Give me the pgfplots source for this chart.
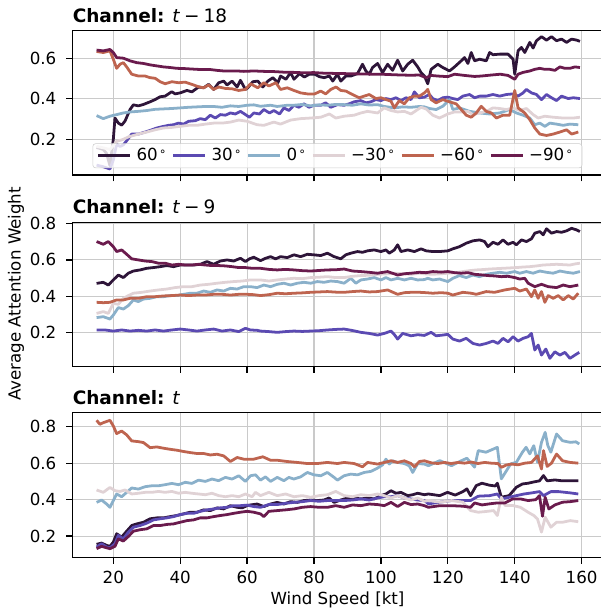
\documentclass[border=0pt]{standalone}
\usepackage{fontspec}
\setmainfont{DejaVu Sans}
\usepackage{pgfplots}
\pgfplotsset{compat=1.18}
\definecolor{cA}{HTML}{2E1539}
\definecolor{cB}{HTML}{5B4AB2}
\definecolor{cC}{HTML}{8AB0CA}
\definecolor{cD}{HTML}{E0D2D5}
\definecolor{cE}{HTML}{BE644F}
\definecolor{cF}{HTML}{6A1B4D}
\definecolor{gridgray}{HTML}{CACACA}
\newcommand{\dg}{\hspace{1pt}\raisebox{0.62ex}{\fontsize{8.4}{8.4}\selectfont ∘}}
\pgfplotsset{
 panel/.style={
  scale only axis, width=381.5pt, height=104pt, anchor=south west,
  xmin=7.8, xmax=166.2,
  xtick={20,40,60,80,100,120,140,160},
  grid=major, grid style={color=gridgray, line width=0.8pt},
  axis line style={line width=0.9pt},
  tick style={line width=0.9pt, black},
  tick align=outside, major tick length=4.5pt,
  xtick pos=bottom, ytick pos=left,
  tick label style={font=\fontsize{12}{14}\selectfont},
  xticklabel style={yshift=-2.3pt},
  yticklabel style={xshift=-3.6pt},
  /pgf/number format/assume math mode=true,
  yticklabel style={/pgf/number format/fixed, /pgf/number format/fixed zerofill, /pgf/number format/precision=1},
  title style={at={(0,1)}, anchor=base west, font=\fontsize{13.3}{15}\selectfont, inner sep=0pt},
  every axis plot/.append style={line width=2pt, line join=round},
 }
}
\begin{document}
\begin{tikzpicture}
% ---------------- Panel 1 ----------------
\begin{axis}[panel, at={(52.2pt,314.6pt)}, ymin=0.024, ymax=0.736, ytick={0.2,0.4,0.6}, xticklabels={},
 title={\textbf{Channel:} \textit{t}\hspace{0.22em}−\hspace{0.22em}18},
 legend columns=6,
 legend style={at={(0.5,0.048)}, anchor=south, draw=black!20, fill=white, fill opacity=0.8, text opacity=1,
   rounded corners=2pt, font=\fontsize{12}{14}\selectfont, inner xsep=3pt, inner ysep=1.5pt,
   nodes={inner xsep=3.5pt},
   /tikz/every even column/.append style={column sep=0.5pt}},
 legend image code/.code={\draw[#1, line width=2pt] (0pt,0pt) -- (23pt,0pt);},
]
\addplot[cA] coordinates {(15,0.16) (16,0.155) (17,0.15) (18,0.13) (19,0.07) (20,0.20) (20.5,0.305) (21.5,0.28) (22.5,0.27) (23.5,0.29) (25,0.347) (26,0.37) (27.5,0.365) (29,0.372) (31,0.385) (32.5,0.396) (34,0.41) (35.5,0.413) (37.5,0.435) (38.5,0.424) (40,0.429) (42,0.441) (43.5,0.434) (45.5,0.458) (47,0.454) (48.5,0.471) (50,0.446) (51.5,0.479) (53,0.487) (54,0.468) (55.5,0.487) (57,0.458) (58,0.491) (59.5,0.446) (60.2,0.454) (61.7,0.484) (63.2,0.487) (64.7,0.458) (66.2,0.487) (67.7,0.504) (69.2,0.479) (70,0.512) (71.6,0.496) (73,0.529) (74,0.496) (75.7,0.524) (77.1,0.507) (78.6,0.521) (80.2,0.521) (81.6,0.509) (83,0.504) (84.6,0.512) (85.6,0.487) (87,0.521) (88,0.487) (89.5,0.512) (91,0.512) (93,0.524) (94.5,0.570) (95.5,0.537) (96.5,0.521) (97.5,0.554) (99,0.574) (100.5,0.529) (102,0.570) (103.5,0.540) (105,0.590) (106.5,0.537) (108,0.570) (109.5,0.590) (111,0.557) (112,0.529) (113,0.512) (114,0.474) (115,0.545) (117,0.570) (118.5,0.554) (120.5,0.537) (122,0.557) (124,0.587) (125,0.603) (126,0.574) (127,0.628) (128,0.587) (129.5,0.595) (131.5,0.587) (132.5,0.628) (133.5,0.617) (135.5,0.620) (138,0.620) (139.5,0.595) (140,0.521) (141,0.636) (142,0.653) (143,0.628) (144.5,0.678) (145.5,0.650) (146.5,0.686) (148,0.706) (149.5,0.689) (151,0.706) (152.5,0.686) (154,0.694) (155.5,0.678) (157,0.694) (158.5,0.689) (159.5,0.683)};
\addlegendentry{60\dg}
\addplot[cB] coordinates {(15,0.073) (17,0.065) (19,0.054) (20,0.098) (21,0.176) (22,0.165) (23,0.173) (24,0.193) (25.5,0.226) (27.5,0.226) (29.5,0.236) (31.5,0.247) (33,0.256) (34.5,0.262) (36.5,0.269) (38,0.272) (39.5,0.280) (41,0.275) (42.5,0.289) (44.5,0.292) (46,0.302) (47.5,0.297) (49,0.319) (50.5,0.305) (52,0.322) (53.5,0.319) (55,0.330) (56.5,0.325) (58,0.338) (59.5,0.322) (60.7,0.309) (62,0.330) (63.7,0.325) (65,0.347) (66.7,0.330) (68,0.342) (69.7,0.325) (71,0.355) (72.5,0.342) (74,0.368) (75.5,0.358) (77,0.375) (78.5,0.358) (80,0.368) (82,0.368) (83.5,0.380) (85,0.358) (87,0.371) (89,0.368) (90.5,0.375) (92,0.385) (94,0.391) (95.5,0.380) (97,0.385) (98.5,0.396) (100,0.391) (101.5,0.401) (103,0.396) (104.5,0.405) (106,0.391) (107.5,0.405) (109,0.396) (110,0.434) (111.5,0.405) (113,0.408) (114.5,0.421) (115.5,0.401) (117,0.391) (118.5,0.405) (120,0.408) (121.5,0.401) (123,0.396) (124.5,0.413) (126.5,0.421) (128,0.405) (129.5,0.413) (131.5,0.413) (133.5,0.421) (135.5,0.413) (137.5,0.421) (139.5,0.424) (141,0.413) (142.5,0.429) (143.5,0.446) (145,0.429) (146.5,0.421) (148,0.396) (149.5,0.421) (151,0.405) (152.5,0.391) (154,0.413) (156,0.401) (157.5,0.405) (159.5,0.401)};
\addlegendentry{30\dg}
\addplot[cC] coordinates {(15,0.317) (17,0.302) (19,0.314) (21,0.322) (23,0.330) (25,0.335) (27.5,0.338) (30,0.342) (32.5,0.348) (35,0.350) (37.5,0.352) (40,0.355) (42.5,0.358) (45,0.360) (47.5,0.362) (50,0.362) (52.5,0.358) (55,0.365) (57.5,0.362) (60,0.368) (62,0.370) (64,0.363) (67,0.368) (69,0.362) (72,0.368) (74,0.368) (76.5,0.372) (79,0.365) (81.5,0.370) (84,0.368) (86.5,0.372) (89,0.371) (91.5,0.368) (94,0.375) (96.5,0.369) (99,0.371) (101,0.362) (104,0.355) (106.5,0.360) (109,0.358) (111.5,0.362) (113,0.360) (114.5,0.352) (116.5,0.347) (118.5,0.363) (120.5,0.396) (121.5,0.347) (123.5,0.355) (126.5,0.338) (129.5,0.330) (132.5,0.325) (135.5,0.330) (138.5,0.347) (140.5,0.330) (142.5,0.319) (144.5,0.305) (146,0.272) (147.5,0.280) (149,0.264) (150.5,0.280) (152.5,0.275) (154.5,0.269) (156.5,0.275) (159,0.272)};
\addlegendentry{0\dg}
\addplot[cD] coordinates {(15,0.165) (17,0.158) (19,0.150) (21,0.190) (23,0.200) (24.5,0.212) (26,0.219) (27.5,0.226) (30,0.236) (32.5,0.247) (35,0.256) (37.5,0.259) (40,0.264) (42.5,0.269) (45,0.269) (47.5,0.275) (50,0.280) (52.5,0.280) (55,0.285) (57.5,0.295) (60,0.289) (63,0.272) (65,0.269) (68,0.285) (70,0.275) (73,0.295) (76,0.302) (79,0.305) (82,0.309) (84.6,0.325) (86.5,0.305) (89,0.314) (92,0.319) (94,0.330) (96,0.338) (99,0.330) (101,0.355) (103,0.342) (105,0.335) (107,0.338) (109,0.325) (111,0.347) (112,0.358) (113.5,0.350) (115.5,0.319) (117.5,0.305) (120,0.325) (122,0.335) (124,0.335) (126,0.338) (127.5,0.322) (129.5,0.330) (131.5,0.338) (133.5,0.355) (135.5,0.352) (137.5,0.347) (139.5,0.355) (141.5,0.342) (143.5,0.352) (145.5,0.322) (147,0.305) (149,0.314) (151.5,0.309) (154.5,0.305) (157.5,0.305) (159.5,0.309)};
\addlegendentry{−30\dg}
\addplot[cE] coordinates {(15,0.633) (17,0.628) (19,0.636) (20,0.595) (21,0.550) (22,0.570) (23,0.578) (24,0.557) (25.5,0.521) (27.5,0.512) (29.5,0.512) (31,0.504) (32.5,0.501) (34,0.484) (35.5,0.474) (37.5,0.484) (39.5,0.479) (41.5,0.482) (43.5,0.471) (45.5,0.459) (47,0.454) (48.5,0.468) (50,0.446) (51.5,0.458) (53.5,0.451) (55.5,0.449) (57.5,0.441) (59.5,0.446) (61,0.474) (63.2,0.454) (65,0.479) (66.5,0.463) (68.6,0.479) (70,0.446) (72,0.454) (74,0.441) (76,0.429) (78,0.424) (80.2,0.424) (82,0.438) (83.5,0.424) (85,0.446) (86.6,0.458) (88,0.441) (89.5,0.438) (91.5,0.421) (93.5,0.405) (95,0.413) (96.5,0.421) (98.5,0.401) (100,0.405) (101.5,0.396) (103,0.388) (104,0.355) (105.5,0.391) (107,0.375) (108.5,0.405) (110,0.413) (111.5,0.413) (113,0.429) (114,0.446) (115,0.396) (116.5,0.380) (118.5,0.396) (120.5,0.385) (122.5,0.375) (124,0.347) (125.5,0.319) (127,0.309) (128.5,0.330) (130,0.363) (131.5,0.338) (133,0.330) (134.5,0.305) (136.5,0.319) (138.5,0.319) (140,0.441) (141,0.355) (143,0.330) (144.5,0.297) (146,0.256) (147.5,0.226) (149.5,0.219) (151.5,0.226) (153.5,0.236) (155.5,0.247) (157,0.226) (159,0.236)};
\addlegendentry{−60\dg}
\addplot[cF] coordinates {(15,0.640) (17,0.636) (19,0.643) (20,0.628) (21,0.603) (23,0.600) (25,0.587) (27,0.578) (29,0.574) (31,0.567) (33,0.562) (35,0.557) (37,0.554) (39,0.550) (41,0.549) (43,0.547) (45,0.545) (47,0.544) (49,0.544) (51,0.540) (53,0.537) (55,0.537) (57,0.537) (59,0.535) (62,0.537) (65,0.535) (68,0.534) (71,0.531) (74,0.530) (77,0.528) (80,0.529) (83,0.526) (86,0.525) (89,0.524) (92,0.523) (95,0.522) (98,0.521) (100,0.521) (103,0.519) (106,0.517) (109,0.516) (111.5,0.517) (113.5,0.504) (115,0.515) (117,0.512) (120,0.509) (122,0.521) (125,0.515) (128,0.510) (130,0.512) (133,0.517) (135.7,0.521) (138,0.515) (140,0.496) (141,0.521) (142.5,0.530) (144.5,0.537) (146,0.545) (147.5,0.550) (149,0.545) (150.5,0.545) (152,0.540) (153.5,0.557) (155,0.550) (156.5,0.550) (158,0.557) (159.5,0.554)};
\addlegendentry{−90\dg}
\end{axis}
% ---------------- Panel 2 ----------------
\begin{axis}[panel, at={(52.2pt,176.6pt)}, ymin=0.013, ymax=0.807, ytick={0.2,0.4,0.6,0.8}, xticklabels={},
 title={\textbf{Channel:} \textit{t}\hspace{0.22em}−\hspace{0.22em}9}]
\addplot[cA] coordinates {(15,0.471) (17,0.477) (18.5,0.462) (20,0.490) (21.5,0.517) (23,0.503) (24.5,0.527) (26,0.539) (28,0.545) (30,0.554) (32,0.558) (34,0.563) (36,0.569) (38,0.563) (40,0.572) (42,0.572) (44,0.572) (46,0.576) (48,0.591) (50,0.576) (52,0.594) (54,0.600) (56,0.594) (58,0.609) (59.5,0.591) (60.7,0.606) (62,0.615) (64,0.596) (65.5,0.609) (67,0.618) (68.5,0.606) (70,0.618) (72,0.613) (74,0.628) (76,0.618) (78,0.631) (80,0.628) (82,0.624) (84,0.637) (86,0.618) (88,0.606) (89.5,0.628) (91,0.637) (93,0.646) (94.5,0.642) (96,0.650) (98,0.655) (100,0.646) (101.5,0.655) (102.5,0.637) (104,0.655) (105,0.683) (106,0.646) (108,0.655) (110,0.646) (112,0.661) (113.5,0.650) (115.5,0.646) (117.5,0.646) (120,0.650) (121.5,0.661) (123.5,0.673) (125.5,0.692) (127.5,0.705) (129.5,0.710) (131,0.701) (132,0.673) (133.5,0.697) (135,0.686) (136.5,0.710) (138,0.686) (139.5,0.697) (140.5,0.683) (142,0.710) (143.5,0.701) (145,0.716) (146,0.747) (147.5,0.756) (148.5,0.738) (149.5,0.771) (151,0.747) (152.5,0.756) (154,0.752) (155.5,0.760) (157,0.774) (158.5,0.765) (159.5,0.756)};
\addplot[cB] coordinates {(15,0.215) (17.5,0.215) (20,0.209) (22.5,0.215) (25,0.209) (27.5,0.213) (30,0.209) (32.5,0.215) (35,0.209) (37.5,0.215) (40,0.220) (42.5,0.215) (45,0.209) (47.5,0.215) (50,0.220) (52.5,0.209) (55,0.215) (57.5,0.206) (59.5,0.224) (61,0.215) (63,0.213) (64,0.209) (66.5,0.206) (69,0.202) (71.5,0.206) (74,0.209) (76.5,0.207) (79,0.209) (81.5,0.211) (84,0.215) (86.5,0.218) (89,0.220) (91.5,0.212) (94,0.202) (96.5,0.196) (99,0.187) (101,0.196) (103,0.209) (104,0.190) (105,0.165) (106.5,0.196) (109,0.183) (111,0.189) (113,0.185) (115,0.202) (116.5,0.183) (118.5,0.187) (120,0.191) (121.5,0.165) (123.5,0.154) (125.5,0.169) (127.5,0.141) (129.5,0.132) (131.5,0.141) (133.5,0.154) (135,0.141) (136.5,0.169) (138,0.150) (139.5,0.178) (141,0.154) (142.5,0.169) (144,0.178) (145,0.196) (146,0.105) (147,0.132) (148,0.077) (149.3,0.110) (150.5,0.059) (152,0.095) (153.5,0.077) (155,0.092) (156.5,0.059) (158,0.077) (159.3,0.092)};
\addplot[cC] coordinates {(15,0.283) (17,0.288) (19,0.275) (20,0.297) (21.5,0.338) (23,0.330) (24.5,0.349) (26,0.380) (27.5,0.371) (29,0.385) (31,0.389) (33,0.398) (35,0.398) (37,0.404) (39,0.404) (41,0.411) (43,0.417) (45,0.417) (47,0.429) (49,0.422) (51,0.435) (53,0.429) (55,0.444) (57,0.440) (59,0.453) (61,0.453) (63,0.448) (65,0.462) (67,0.453) (69,0.466) (71,0.472) (73,0.462) (75,0.472) (77,0.477) (79,0.472) (81,0.481) (83,0.477) (85,0.484) (87,0.481) (89,0.472) (91,0.499) (92.5,0.472) (94,0.490) (96,0.495) (98,0.503) (100,0.490) (101.5,0.503) (103,0.490) (105,0.499) (107,0.490) (109,0.499) (111,0.490) (113,0.492) (114,0.499) (115.5,0.490) (117.5,0.495) (120,0.481) (121.5,0.499) (123.5,0.514) (125.5,0.503) (127.5,0.517) (129.5,0.508) (131.5,0.521) (133.5,0.527) (135.5,0.532) (137.5,0.527) (140,0.536) (141.5,0.527) (143.5,0.536) (145.5,0.527) (147.5,0.539) (149.5,0.532) (151.5,0.527) (153.5,0.539) (155.5,0.532) (157.5,0.527) (159.5,0.536)};
\addplot[cD] coordinates {(15,0.306) (17,0.316) (18.5,0.306) (20,0.361) (21.5,0.356) (23,0.389) (24.5,0.404) (26,0.417) (28.5,0.422) (31,0.429) (33.5,0.435) (36,0.440) (38.5,0.448) (41,0.453) (43.5,0.453) (46,0.462) (48.5,0.466) (51,0.472) (53.5,0.477) (56,0.481) (58.5,0.484) (61,0.490) (64,0.490) (66.5,0.484) (69,0.490) (71.5,0.495) (74,0.499) (76.5,0.497) (79,0.503) (81.5,0.505) (84,0.508) (86.5,0.503) (89,0.503) (91.5,0.510) (94,0.514) (96.5,0.516) (99,0.521) (101.5,0.523) (104,0.527) (106.5,0.524) (109,0.521) (111.5,0.527) (113.5,0.523) (115.5,0.521) (118,0.524) (120,0.527) (122.5,0.530) (124.5,0.536) (126.5,0.541) (128.5,0.545) (130.5,0.547) (132.5,0.550) (134.5,0.552) (136.5,0.554) (138.5,0.556) (140.5,0.558) (142.5,0.561) (144.5,0.563) (146.5,0.567) (148.5,0.572) (150.5,0.574) (152.5,0.576) (154.5,0.574) (156.5,0.572) (158,0.578) (159.5,0.582)};
\addplot[cE] coordinates {(15,0.367) (17,0.365) (19,0.367) (21,0.380) (23,0.380) (25,0.389) (27.5,0.389) (30,0.398) (32.5,0.398) (35,0.402) (37.5,0.404) (40,0.407) (42.5,0.404) (45,0.407) (47.5,0.407) (50,0.411) (52.5,0.411) (55,0.407) (57.5,0.411) (60,0.411) (62,0.409) (64,0.404) (66.5,0.409) (69,0.417) (71.5,0.414) (74,0.417) (76.5,0.419) (79,0.422) (81.5,0.424) (84,0.426) (86.5,0.423) (89,0.422) (91.5,0.426) (94,0.429) (96.5,0.424) (99,0.426) (102,0.435) (105,0.411) (107,0.420) (109,0.422) (111.5,0.422) (113.5,0.420) (115.5,0.417) (118,0.420) (120,0.417) (121.5,0.407) (124.5,0.422) (127,0.417) (128.5,0.411) (131.5,0.426) (134,0.422) (137,0.435) (140,0.444) (141.5,0.429) (143.5,0.440) (145,0.398) (146,0.435) (147,0.389) (148,0.426) (149,0.367) (150,0.404) (151.5,0.389) (153,0.404) (154.5,0.380) (156,0.404) (157.5,0.385) (159,0.417)};
\addplot[cF] coordinates {(15,0.701) (17,0.686) (18.5,0.701) (20,0.673) (21,0.646) (22.5,0.655) (24,0.631) (25.5,0.606) (27.5,0.600) (29.5,0.594) (31.5,0.591) (33.5,0.582) (35.5,0.582) (37.5,0.572) (39.5,0.576) (41.5,0.572) (43.5,0.572) (45.5,0.576) (47.5,0.572) (49.5,0.569) (51.5,0.569) (53.5,0.567) (55.5,0.563) (57.5,0.558) (59.5,0.558) (61.5,0.554) (64,0.554) (66.5,0.548) (69,0.545) (71.5,0.548) (74,0.545) (76.5,0.541) (79,0.539) (81.5,0.542) (84,0.545) (86.5,0.546) (89,0.550) (91.5,0.539) (94,0.536) (96.5,0.532) (99,0.527) (102,0.536) (105,0.517) (107,0.524) (109,0.527) (111.5,0.532) (113.5,0.530) (115.5,0.536) (118,0.533) (120,0.536) (122,0.530) (124,0.527) (126,0.530) (128,0.521) (130,0.518) (132,0.514) (134,0.512) (136,0.508) (138,0.510) (140,0.503) (141.5,0.495) (143,0.499) (144,0.472) (146,0.453) (148,0.466) (150,0.453) (152.5,0.448) (154.5,0.462) (156.5,0.453) (159,0.462)};
\end{axis}
% ---------------- Panel 3 ----------------
\begin{axis}[panel, at={(52.2pt,39.4pt)}, ymin=0.084, ymax=0.876, ytick={0.2,0.4,0.6,0.8},
 title={\textbf{Channel:} \textit{t}}]
\addplot[cA] coordinates {(15,0.155) (16.5,0.162) (18,0.149) (19,0.144) (20,0.167) (21,0.213) (22.5,0.195) (24,0.227) (25.5,0.258) (27,0.267) (29,0.276) (31,0.295) (33,0.300) (35,0.300) (37,0.307) (39,0.313) (41,0.322) (43,0.331) (45,0.331) (47,0.344) (49,0.340) (51,0.355) (53,0.349) (55,0.367) (57,0.358) (58.5,0.355) (60,0.367) (61,0.371) (63,0.376) (65,0.362) (67,0.376) (69,0.385) (71,0.376) (73,0.389) (75,0.385) (77,0.395) (79,0.398) (81,0.395) (83,0.398) (84.5,0.409) (86,0.385) (88,0.398) (90,0.409) (92,0.409) (94,0.404) (96,0.409) (98,0.404) (100,0.422) (101.5,0.431) (103,0.449) (104.5,0.435) (106,0.440) (108,0.422) (109.5,0.427) (111,0.435) (113,0.427) (114.2,0.431) (117.6,0.422) (119.9,0.440) (122.2,0.425) (124.5,0.444) (125.7,0.459) (126.8,0.422) (128.5,0.477) (130.2,0.490) (132.5,0.479) (134.2,0.475) (134.8,0.490) (136,0.413) (138.3,0.422) (140.5,0.468) (142.3,0.486) (144,0.490) (145.7,0.497) (147.4,0.503) (148.6,0.532) (149.7,0.503) (152,0.508) (154.3,0.503) (156.6,0.503) (159,0.503)};
\addplot[cB] coordinates {(15,0.140) (16.5,0.158) (18,0.140) (19,0.136) (20.5,0.158) (21.5,0.204) (23,0.185) (24.5,0.222) (26,0.249) (28,0.258) (30,0.271) (32,0.289) (34,0.295) (36,0.300) (38,0.307) (40,0.318) (42,0.325) (44,0.325) (46,0.336) (48,0.344) (50,0.349) (52,0.355) (54,0.358) (56,0.367) (58,0.367) (60,0.370) (62,0.362) (64,0.358) (66.5,0.373) (69,0.373) (71.5,0.380) (74,0.385) (76.5,0.389) (79,0.395) (81.5,0.391) (84,0.395) (86.5,0.395) (89,0.395) (91.5,0.398) (94,0.404) (96.5,0.398) (99,0.409) (101,0.416) (103,0.416) (105,0.422) (107,0.409) (109,0.404) (111,0.398) (113,0.395) (114.2,0.377) (117.6,0.386) (121.1,0.395) (124.5,0.395) (126.8,0.395) (129.1,0.419) (132.5,0.422) (134.8,0.431) (136,0.404) (138.3,0.413) (140.5,0.422) (142.8,0.431) (145.1,0.437) (147.4,0.444) (148.6,0.422) (150.8,0.444) (153.1,0.444) (156.6,0.437) (159,0.431)};
\addplot[cC] coordinates {(15,0.385) (16.5,0.398) (18,0.376) (19,0.358) (20,0.395) (21,0.431) (22.5,0.416) (24,0.440) (25.5,0.464) (27.5,0.458) (29.5,0.471) (31.5,0.476) (33.5,0.476) (35.5,0.482) (37.5,0.489) (39.5,0.482) (41.5,0.495) (43.5,0.489) (45.5,0.507) (47.5,0.500) (49.5,0.513) (51.5,0.504) (53.5,0.522) (55.5,0.513) (57.5,0.531) (59.5,0.500) (61,0.531) (62.5,0.536) (64,0.507) (65.5,0.525) (67,0.500) (69,0.522) (71,0.504) (72.5,0.522) (74,0.513) (76,0.525) (78,0.549) (80,0.536) (82,0.531) (84,0.549) (86,0.522) (87,0.507) (89,0.531) (91,0.540) (93,0.536) (95,0.549) (97,0.555) (99,0.573) (100.5,0.591) (101.5,0.622) (102.5,0.595) (103.5,0.613) (105,0.604) (107,0.598) (108.5,0.585) (109.5,0.549) (111,0.598) (113,0.595) (114.2,0.586) (117.6,0.614) (121.1,0.586) (123.4,0.608) (125.7,0.627) (128,0.578) (129.1,0.669) (131.4,0.660) (133.7,0.678) (134.8,0.687) (136,0.514) (137.1,0.546) (138.8,0.596) (140.5,0.605) (142.3,0.660) (143.4,0.687) (144.5,0.651) (145.7,0.696) (146.8,0.605) (148,0.714) (149.1,0.769) (149.9,0.696) (150.8,0.660) (152.5,0.760) (154.3,0.723) (156.6,0.714) (158.3,0.717) (159.3,0.705)};
\addplot[cD] coordinates {(15,0.453) (17,0.440) (19,0.467) (20.5,0.449) (22,0.445) (23.5,0.453) (25.5,0.431) (27.5,0.435) (29.5,0.440) (31.5,0.440) (33.5,0.445) (35.5,0.440) (37.5,0.445) (39.5,0.435) (41.5,0.440) (43.5,0.435) (45.5,0.431) (47.5,0.427) (49.5,0.435) (51.5,0.422) (53.5,0.416) (55.5,0.422) (57.5,0.416) (59.5,0.431) (61.5,0.416) (62.5,0.440) (64,0.422) (66.5,0.440) (69,0.422) (71.5,0.431) (74,0.416) (76.5,0.422) (79,0.413) (81.5,0.422) (84,0.427) (86.5,0.445) (89,0.422) (91.5,0.416) (94,0.427) (96.5,0.422) (99,0.431) (101,0.422) (103,0.409) (105,0.422) (107,0.409) (109,0.398) (111,0.409) (113,0.391) (114.2,0.395) (117.6,0.386) (121.1,0.395) (124.5,0.386) (126.8,0.340) (129.1,0.331) (131.4,0.335) (133.7,0.340) (134.8,0.313) (136,0.413) (137.1,0.368) (139.4,0.368) (141.7,0.358) (144,0.331) (145.7,0.313) (146.8,0.294) (148,0.222) (149.1,0.304) (150.8,0.249) (152.5,0.276) (154.3,0.276) (156.6,0.285) (159,0.279)};
\addplot[cE] coordinates {(15,0.835) (16,0.813) (17,0.822) (19,0.835) (20,0.804) (21,0.762) (22.5,0.776) (24,0.755) (25.5,0.722) (27.5,0.718) (29,0.713) (31,0.685) (33,0.689) (35,0.682) (37,0.676) (39,0.671) (41,0.664) (43,0.658) (45,0.653) (47,0.653) (49,0.645) (51,0.649) (53,0.640) (55,0.609) (57,0.631) (59,0.622) (62,0.622) (64.7,0.635) (67,0.616) (69,0.616) (72,0.609) (75,0.604) (78,0.598) (81,0.598) (84,0.604) (87,0.598) (89,0.604) (92,0.598) (94.5,0.580) (96,0.604) (99,0.595) (101,0.604) (103,0.613) (105,0.604) (107,0.613) (109,0.598) (110,0.580) (111.5,0.609) (113,0.613) (115,0.602) (117,0.598) (119,0.604) (121,0.598) (123,0.604) (125,0.600) (127,0.606) (129,0.598) (131,0.604) (133,0.600) (135,0.598) (136,0.577) (137.5,0.590) (139,0.595) (141,0.591) (143,0.600) (145,0.604) (146.8,0.640) (148,0.568) (148.6,0.669) (149.7,0.582) (151,0.600) (152.5,0.650) (154.3,0.613) (156.6,0.604) (159,0.600)};
\addplot[cF] coordinates {(15,0.131) (16.5,0.144) (18,0.136) (19,0.131) (20.5,0.144) (21.5,0.185) (23,0.173) (24.5,0.198) (26,0.227) (28,0.235) (30,0.240) (32,0.258) (34,0.258) (36,0.264) (38,0.267) (40,0.276) (42,0.285) (44,0.289) (46,0.300) (48,0.300) (50,0.307) (52,0.313) (54,0.318) (56,0.325) (58,0.331) (60,0.336) (62,0.331) (64,0.322) (65,0.307) (66.5,0.336) (69,0.340) (71.5,0.344) (74,0.349) (76.5,0.358) (79,0.362) (81.5,0.358) (84,0.358) (86.5,0.367) (89,0.358) (91.5,0.371) (94,0.367) (96.5,0.376) (99,0.373) (101,0.367) (103,0.385) (105,0.362) (107,0.385) (109,0.373) (111,0.376) (113,0.367) (114.2,0.358) (117.6,0.367) (121.1,0.367) (124.5,0.364) (126.8,0.358) (128,0.382) (130.2,0.371) (132.5,0.377) (134.8,0.382) (137.1,0.382) (139.4,0.404) (141.7,0.404) (144,0.395) (146.3,0.400) (147.4,0.422) (148.3,0.309) (149.1,0.413) (150.2,0.349) (152,0.371) (154.3,0.386) (156.6,0.389) (159,0.395)};
\end{axis}
\node[rotate=90, font=\fontsize{12}{14}\selectfont] at (11.5pt,229pt) {Average Attention Weight};
\node[font=\fontsize{12}{14}\selectfont] at (243pt,8.4pt) {Wind Speed [kt]};
\pgfresetboundingbox
\useasboundingbox (0pt,0pt) rectangle (432pt,440.64pt);
\end{tikzpicture}
\end{document}
